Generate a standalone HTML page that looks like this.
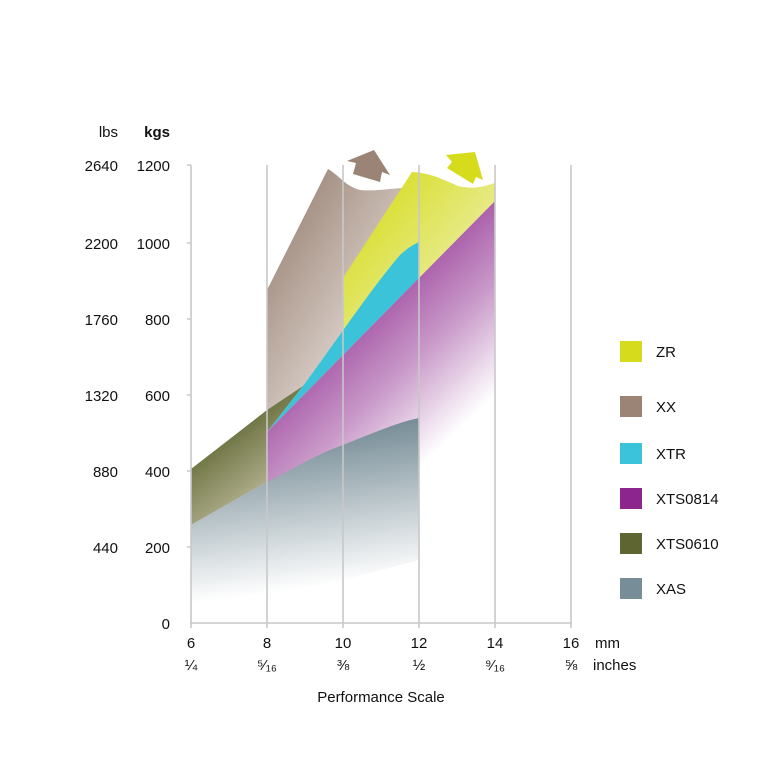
<!DOCTYPE html>
<html><head><meta charset="utf-8"><style>
body{margin:0;background:#fff;}
svg{display:block;font-family:"Liberation Sans",sans-serif;}
</style></head><body>
<svg width="768" height="768" viewBox="0 0 768 768">
<defs>
<linearGradient id="gXX" x1="0" y1="0" x2="1" y2="1"><stop offset="0.1" stop-color="#9b8476"/><stop offset="0.9" stop-color="#f6f2ef"/></linearGradient>
<linearGradient id="gZR" x1="0" y1="0" x2="1" y2="1"><stop offset="0.1" stop-color="#d6dc1c"/><stop offset="0.8" stop-color="#eef0b4"/></linearGradient>
<linearGradient id="gP" x1="0.2" y1="0.1" x2="0.75" y2="0.9"><stop offset="0.15" stop-color="#8c268c"/><stop offset="0.6" stop-color="#c99ac9"/><stop offset="0.9" stop-color="#ffffff"/></linearGradient>
<linearGradient id="gO" x1="0" y1="0" x2="0.6" y2="1"><stop offset="0.3" stop-color="#5e6530"/><stop offset="1" stop-color="#c9c6aa"/></linearGradient>
<linearGradient id="gA" x1="0.35" y1="0" x2="0.5" y2="1"><stop offset="0.1" stop-color="#778d97"/><stop offset="0.85" stop-color="#ffffff"/></linearGradient>
</defs>
<path d="M267,290 L328,169 C340,176 345,186 360,190 C380,192 400,186 418,188 L418,280 L303,386 L267,410 Z" fill="url(#gXX)"/>
<path d="M343,278 L412,172 C430,173 440,178 458,186 C475,190 485,186 495,183 L495,201 L419,278 L343,352 Z" fill="url(#gZR)"/>
<path d="M267,432 L303,386 C330,350 370,290 400,255 C410,246 415,244 419,242 L419,278 Z" fill="#3bc3da"/>
<path d="M267,432 L495,201 L495,520 L419,480 L267,482 Z" fill="url(#gP)"/>
<path d="M191,469 L267,410 L303,386 L267,432 L267,482 L191,525 Z" fill="url(#gO)"/>
<path d="M191,525 L267,482 C300,465 320,453 343,445 C380,430 400,422 419,418 L419,560 L191,620 Z" fill="url(#gA)"/>
<path d="M347,161 L374,150 L390,175 L382,172 L380,182 L353,174 L356,163 Z" fill="#9b8476"/>
<path d="M446,155 L475,152 L483,180 L476,177 L473,184 L447,168 L452,162 Z" fill="#d6dc1c"/>
<g stroke="#c8c8c8" stroke-width="1.6">
<line x1="191" y1="165" x2="191" y2="628"/>
<line x1="267" y1="165" x2="267" y2="628"/>
<line x1="343" y1="165" x2="343" y2="628"/>
<line x1="419" y1="165" x2="419" y2="628"/>
<line x1="495" y1="165" x2="495" y2="628"/>
<line x1="571" y1="165" x2="571" y2="628"/>
<line x1="190" y1="623" x2="572" y2="623"/>
</g>
<g stroke="#c8c8c8" stroke-width="1.5">
<line x1="187" y1="165" x2="191" y2="165"/><line x1="187" y1="243" x2="191" y2="243"/><line x1="187" y1="319" x2="191" y2="319"/><line x1="187" y1="395" x2="191" y2="395"/><line x1="187" y1="471" x2="191" y2="471"/><line x1="187" y1="547" x2="191" y2="547"/>
</g>
<g font-size="15" fill="#111" text-anchor="end">
<text x="118" y="137">lbs</text>
<text x="118" y="171">2640</text><text x="118" y="249">2200</text><text x="118" y="325">1760</text><text x="118" y="401">1320</text><text x="118" y="477">880</text><text x="118" y="553">440</text>
</g>
<g font-size="15" fill="#111" text-anchor="end" font-weight="bold">
<text x="170" y="137">kgs</text>
</g>
<g font-size="15" fill="#111" text-anchor="end">
<text x="170" y="171">1200</text><text x="170" y="249">1000</text><text x="170" y="325">800</text><text x="170" y="401">600</text><text x="170" y="477">400</text><text x="170" y="553">200</text><text x="170" y="629">0</text>
</g>
<g font-size="15" fill="#111" text-anchor="middle">
<text x="191" y="648">6</text><text x="267" y="648">8</text><text x="343" y="648">10</text><text x="419" y="648">12</text><text x="495" y="648">14</text><text x="571" y="648">16</text>
<text x="191" y="670">¼</text><text x="267" y="670">⁵⁄₁₆</text><text x="343" y="670">⅜</text><text x="419" y="670">½</text><text x="495" y="670">⁹⁄₁₆</text><text x="571" y="670">⅝</text>
<text x="381" y="702">Performance Scale</text>
</g>
<g font-size="15" fill="#111">
<text x="595" y="648">mm</text><text x="593" y="670">inches</text>
</g>
<g>
<rect x="620" y="341" width="22" height="21" fill="#d6dc1c"/>
<rect x="620" y="396" width="22" height="21" fill="#9b8476"/>
<rect x="620" y="443" width="22" height="21" fill="#3bc3da"/>
<rect x="620" y="488" width="22" height="21" fill="#8c268c"/>
<rect x="620" y="533" width="22" height="21" fill="#5e6530"/>
<rect x="620" y="578" width="22" height="21" fill="#778d97"/>
</g>
<g font-size="15" fill="#111">
<text x="656" y="357">ZR</text><text x="656" y="412">XX</text><text x="656" y="459">XTR</text><text x="656" y="504">XTS0814</text><text x="656" y="549">XTS0610</text><text x="656" y="594">XAS</text>
</g>
</svg>
</body></html>
